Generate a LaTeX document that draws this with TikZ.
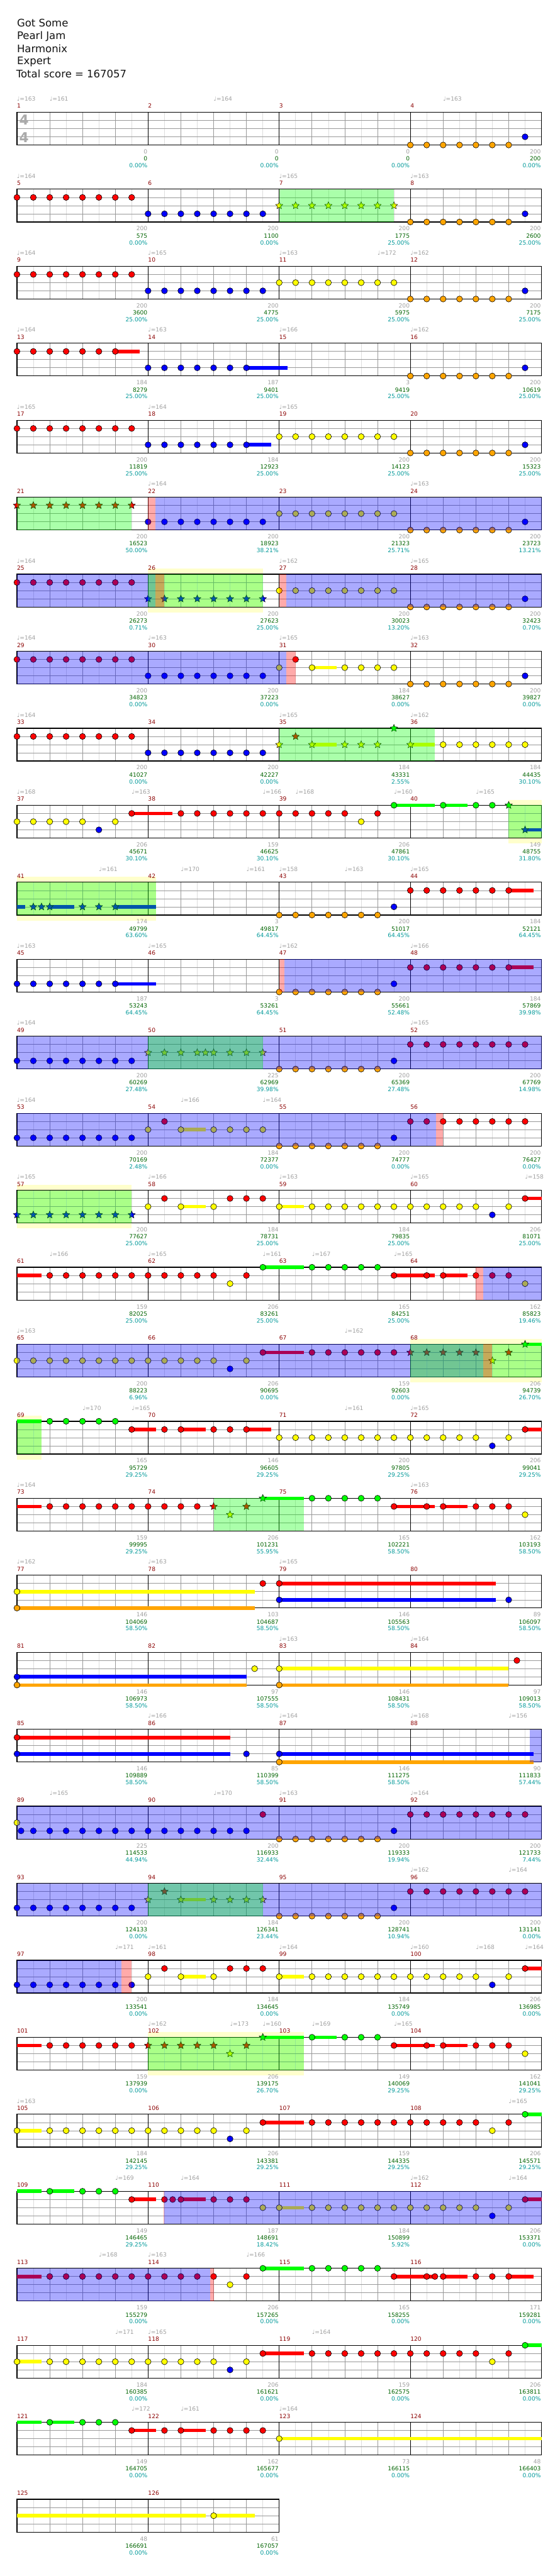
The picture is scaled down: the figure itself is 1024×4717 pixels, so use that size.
\documentclass[tikz,border=0pt]{standalone}
\usepackage{fontspec}
\setmainfont{DejaVu Sans}
\usetikzlibrary{shapes.geometric}
\definecolor{lane0}{HTML}{00FF00}
\definecolor{lane1}{HTML}{FF0000}
\definecolor{lane2}{HTML}{FFFF00}
\definecolor{lane3}{HTML}{0000FF}
\definecolor{lane4}{HTML}{FFA500}
\definecolor{qgray}{HTML}{999999}
\definecolor{qlight}{HTML}{DDDDDD}
\definecolor{qnum}{HTML}{8B0000}
\definecolor{qtxt}{HTML}{A0A0A0}
\definecolor{qgreen}{HTML}{006400}
\definecolor{qcyan}{HTML}{009999}
\definecolor{qband}{HTML}{FFFFCC}
\definecolor{qts}{HTML}{AAAAAA}
\tikzset{
 qlab/.style={inner sep=0pt, font=\fontsize{10.5}{12}\selectfont},
 qhead/.style={inner sep=0pt, anchor=base west, font=\fontsize{19}{22}\selectfont, text=black!92},
 qnote/.style={draw=black, line width=0.7pt},
 qstar/.style={star, star points=5, star point ratio=2.2, minimum size=14pt, inner sep=0pt, draw=black, line width=0.6pt},
}
\newcommand\qrow[3]{%
 \pgfmathsetmacro\qT{205.5+141*(#1-1)}%
 \pgfmathtruncatemacro\qK{8*#2}%
 \begin{scope}[shift={(31pt,-\qT pt)},x=30pt,y=-15pt]
 #3
 \foreach \qk in {1,3,...,\qK} {\draw[qlight, line width=0.8pt] (\qk,0)--(\qk,4);}
 \foreach \qk in {2,4,...,\qK} {\draw[qgray, line width=0.8pt] (\qk,0)--(\qk,4);}
 \foreach \ql in {1,2,3} {\draw[qgray, line width=0.8pt] (0,\ql)--(\qK,\ql);}
 \foreach \qk in {8,16,...,\qK} {\draw[black, line width=0.9pt] (\qk,0)--(\qk,4);}
 \draw[black, line width=1.4pt] (0,0) rectangle (\qK,4);
 \foreach \qc in {1,...,#2} {\pgfmathtruncatemacro\qm{4*(#1-1)+\qc}\node[qlab, text=qnum, anchor=base west, yshift=7.5pt] at ({8*(\qc-1)},0) {\qm};}
}
\newcommand\qend{\end{scope}}
\newcommand\qn[2]{\foreach \qk in {#2} {\draw[qnote, fill=lane#1] (\qk,#1) circle (5.5pt);}}
\newcommand\qs[2]{\foreach \qk in {#2} {\node[qstar, fill=lane#1] at (\qk,#1) {};}}
\newcommand\qsu[3]{\draw[lane#1, line width=6.5pt] (#2,#1)--(#3,#1);}
\newcommand\qg[2]{\fill[lane0, opacity=0.333] (#1,0) rectangle (#2,4);}
\newcommand\qb[2]{\fill[lane3, opacity=0.333] (#1,0) rectangle (#2,4);}
\newcommand\qp[2]{\fill[lane1, opacity=0.333] (#1,0) rectangle (#2,4);}
\newcommand\qy[2]{\fill[qband] (#1,-0.667) rectangle (#2,4.667);}
\newcommand\qt[2]{\node[qlab, text=qtxt, anchor=base west, yshift=20.5pt] at (#1,0) {♩=#2};}
\newcommand\qsc[4]{%
 \node[qlab, text=qtxt, anchor=base east, xshift=-1pt, yshift=-76pt] at ({8*#1},0) {#2};
 \node[qlab, text=qgreen, anchor=base east, xshift=-1pt, yshift=-89pt] at ({8*#1},0) {#3};
 \node[qlab, text=qcyan, anchor=base east, xshift=-1pt, yshift=-101.5pt] at ({8*#1},0) {#4\%};}
\begin{document}
\begin{tikzpicture}[x=1pt,y=-1pt]
\useasboundingbox (0,0) rectangle (1024,4717);
\fill[white] (0,0) rectangle (1024,4717);
\node[qhead] (title) at (31,49.3) {Got Some};
\node[qhead] (artist) at (31,72.3) {Pearl Jam};
\node[qhead] (charter) at (31,95.7) {Harmonix};
\node[qhead] (diff) at (31,118.3) {Expert};
\node[qhead] (total) at (29.5,141.7) {Total score = 167057};
% row 1
\qrow{1}{4}{}
\qt{0}{163}\qt{2}{161}\qt{12}{164}\qt{26}{163}
\qn{4}{24,...,30}\qn{3}{31}
\qsc{1}{0}{0}{0.00}\qsc{2}{0}{0}{0.00}\qsc{3}{0}{0}{0.00}\qsc{4}{200}{200}{0.00}
\qend
\node[inner sep=0pt, anchor=base west, font=\fontsize{25}{25}\selectfont\bfseries, text=qts] (tsa) at (35,228.1) {4};
\node[inner sep=0pt, anchor=base west, font=\fontsize{25}{25}\selectfont\bfseries, text=qts] (tsb) at (35,260.8) {4};
% row 2
\qrow{2}{4}{}
\qt{0}{164}\qt{16}{165}\qt{24}{163}
\qn{1}{0,...,7}\qn{3}{8,...,15}\qs{2}{16,...,23}\qn{4}{24,...,30}\qn{3}{31}
\qg{16}{23}
\qsc{1}{200}{575}{0.00}\qsc{2}{200}{1100}{0.00}\qsc{3}{200}{1775}{25.00}\qsc{4}{200}{2600}{25.00}
\qend
% row 3
\qrow{3}{4}{}
\qt{0}{164}\qt{8}{165}\qt{16}{163}\qt{22}{172}\qt{24}{162}
\qn{1}{0,...,7}\qn{3}{8,...,15}\qn{2}{16,...,23}\qn{4}{24,...,30}\qn{3}{31}
\qsc{1}{200}{3600}{25.00}\qsc{2}{200}{4775}{25.00}\qsc{3}{200}{5975}{25.00}\qsc{4}{200}{7175}{25.00}
\qend
% row 4
\qrow{4}{4}{}
\qt{0}{164}\qt{8}{163}\qt{16}{166}\qt{24}{162}
\qsu{1}{6}{7.5}\qsu{3}{14}{16.5}
\qn{1}{0,...,6}\qn{3}{8,...,14}\qn{4}{24,...,30}\qn{3}{31}
\qsc{1}{184}{8279}{25.00}\qsc{2}{187}{9401}{25.00}\qsc{3}{3}{9419}{25.00}\qsc{4}{200}{10619}{25.00}
\qend
% row 5
\qrow{5}{4}{}
\qt{0}{165}\qt{8}{164}\qt{16}{165}
\qsu{3}{14}{15.5}
\qn{1}{0,...,7}\qn{3}{8,...,14}\qn{2}{16,...,23}\qn{4}{24,...,30}\qn{3}{31}
\qsc{1}{200}{11819}{25.00}\qsc{2}{184}{12923}{25.00}\qsc{3}{200}{14123}{25.00}\qsc{4}{200}{15323}{25.00}
\qend
% row 6
\qrow{6}{4}{}
\qt{8}{164}\qt{24}{163}
\qs{1}{0,...,7}\qn{3}{8,...,15}\qn{2}{16,...,23}\qn{4}{24,...,30}\qn{3}{31}
\qg{0}{7}\qp{8}{8.43}\qb{8.43}{32}
\qsc{1}{200}{16523}{50.00}\qsc{2}{200}{18923}{38.21}\qsc{3}{200}{21323}{25.71}\qsc{4}{200}{23723}{13.21}
\qend
% row 7
\qrow{7}{4}{\qy{8}{15}}
\qt{0}{164}\qt{16}{162}\qt{24}{165}
\qn{1}{0,...,7}\qs{3}{8,...,15}\qn{2}{16,...,23}\qn{4}{24,...,30}\qn{3}{31}
\qb{0}{8.43}\qg{8}{15}\qp{8.43}{9}\qp{16}{16.43}\qb{16.43}{32}
\qsc{1}{200}{26273}{0.71}\qsc{2}{200}{27623}{25.00}\qsc{3}{200}{30023}{13.20}\qsc{4}{200}{32423}{0.70}
\qend
% row 8
\qrow{8}{4}{}
\qt{0}{164}\qt{8}{163}\qt{16}{165}\qt{24}{163}
\qsu{2}{18}{19.5}
\qn{1}{0,...,7}\qn{3}{8,...,15}\qn{2}{16,18,20,21,22,23}\qn{1}{17}\qn{4}{24,...,30}\qn{3}{31}
\qb{0}{16.43}\qp{16.43}{17}
\qsc{1}{200}{34823}{0.00}\qsc{2}{200}{37223}{0.00}\qsc{3}{184}{38627}{0.00}\qsc{4}{200}{39827}{0.00}
\qend
% row 9
\qrow{9}{4}{}
\qt{0}{164}\qt{16}{165}\qt{24}{162}
\qsu{2}{18}{19.5}\qsu{2}{24}{25.5}
\qn{1}{0,...,7}\qn{3}{8,...,15}\qs{2}{16,18,20,21,22,24}\qs{1}{17}\qs{0}{23}\qn{2}{26,...,31}
\qg{16}{25.5}
\qsc{1}{200}{41027}{0.00}\qsc{2}{200}{42227}{0.00}\qsc{3}{184}{43331}{2.55}\qsc{4}{184}{44435}{30.10}
\qend
% row 10
\qrow{10}{4}{\qy{30}{32}}
\qt{0}{168}\qt{7}{163}\qt{15}{166}\qt{17}{168}\qt{23}{160}\qt{28}{165}
\qsu{1}{7}{9.5}\qsu{0}{23}{25.5}\qsu{0}{26}{27.5}\qsu{3}{31}{32}
\qn{2}{0,...,4}\qn{3}{5}\qn{2}{6}\qn{1}{7}\qn{1}{10,...,20}\qn{2}{21}\qn{1}{22}\qn{0}{23,26,28,29}\qs{0}{30}\qs{3}{31}
\qg{30}{32}
\qsc{1}{206}{45671}{30.10}\qsc{2}{159}{46625}{30.10}\qsc{3}{206}{47861}{30.10}\qsc{4}{149}{48755}{31.80}
\qend
% row 11
\qrow{11}{4}{\qy{0}{8.5}}
\qt{5}{161}\qt{10}{170}\qt{14}{161}\qt{16}{158}\qt{20}{163}\qt{24}{165}
\qsu{3}{0}{0.5}\qsu{3}{2}{3.5}\qsu{3}{6}{8.5}\qsu{1}{30}{31.5}
\qs{3}{1,1.5,2,4,5,6}\qn{4}{16,...,22}\qn{3}{23}\qn{1}{24,...,30}
\qg{0}{8.5}
\qsc{1}{174}{49799}{63.60}\qsc{2}{3}{49817}{64.45}\qsc{3}{200}{51017}{64.45}\qsc{4}{184}{52121}{64.45}
\qend
% row 12
\qrow{12}{4}{}
\qt{0}{163}\qt{8}{165}\qt{16}{162}\qt{24}{166}
\qsu{3}{6}{8.5}\qsu{1}{30}{31.5}
\qn{3}{0,...,6}\qn{4}{16,...,22}\qn{3}{23}\qn{1}{24,...,30}
\qp{16}{16.33}\qb{16.33}{32}
\qsc{1}{187}{53243}{64.45}\qsc{2}{3}{53261}{64.45}\qsc{3}{200}{55661}{52.48}\qsc{4}{184}{57869}{39.98}
\qend
% row 13
\qrow{13}{4}{}
\qt{0}{164}\qt{24}{165}
\qn{3}{0,...,7}\qs{2}{8,9,10,11,11.5,12,13,14,15}\qn{4}{16,...,22}\qn{3}{23}\qn{1}{24,...,31}
\qb{0}{32}\qg{8}{15}
\qsc{1}{200}{60269}{27.48}\qsc{2}{225}{62969}{39.98}\qsc{3}{200}{65369}{27.48}\qsc{4}{200}{67769}{14.98}
\qend
% row 14
\qrow{14}{4}{}
\qt{0}{164}\qt{10}{166}\qt{15}{164}
\qsu{2}{10}{11.5}
\qn{3}{0,...,7}\qn{2}{8,10,12,13,14,15}\qn{1}{9}\qn{4}{16,...,22}\qn{3}{23}\qn{1}{24,...,31}
\qb{0}{25.58}\qp{25.58}{26}
\qsc{1}{200}{70169}{2.48}\qsc{2}{184}{72377}{0.00}\qsc{3}{200}{74777}{0.00}\qsc{4}{200}{76427}{0.00}
\qend
% row 15
\qrow{15}{4}{\qy{0}{7}}
\qt{0}{165}\qt{8}{166}\qt{16}{163}\qt{24}{165}\qt{31}{158}
\qsu{2}{10}{11.5}\qsu{2}{16}{17.5}\qsu{1}{31}{32}
\qs{3}{0,...,7}\qn{2}{8,10,12,16}\qn{1}{9,13,14,15}\qn{2}{18,...,28}\qn{3}{29}\qn{2}{30}\qn{1}{31}
\qg{0}{7}
\qsc{1}{200}{77627}{25.00}\qsc{2}{184}{78731}{25.00}\qsc{3}{184}{79835}{25.00}\qsc{4}{206}{81071}{25.00}
\qend
% row 16
\qrow{16}{4}{}
\qt{2}{166}\qt{8}{165}\qt{15}{161}\qt{18}{167}\qt{23}{165}
\qsu{1}{0}{1.5}\qsu{0}{15}{17.5}\qsu{1}{23}{25.5}\qsu{1}{26}{27.5}
\qn{1}{2,...,12}\qn{2}{13}\qn{1}{14}\qn{0}{15}\qn{0}{18,...,22}\qn{1}{23,25,26,28,29,30}\qn{2}{31}
\qp{28}{28.43}\qb{28.43}{32}
\qsc{1}{159}{82025}{25.00}\qsc{2}{206}{83261}{25.00}\qsc{3}{165}{84251}{25.00}\qsc{4}{162}{85823}{19.46}
\qend
% row 17
\qrow{17}{4}{\qy{24}{32}}
\qt{0}{163}\qt{20}{162}
\qsu{1}{15}{17.5}\qsu{0}{31}{32}
\qn{2}{0,...,12}\qn{3}{13}\qn{2}{14}\qn{1}{15}\qn{1}{18,...,23}\qs{1}{24,...,28}\qs{2}{29}\qs{1}{30}\qs{0}{31}
\qb{0}{28.45}\qg{24}{32}\qp{28.45}{29}
\qsc{1}{200}{88223}{6.96}\qsc{2}{206}{90695}{0.00}\qsc{3}{159}{92603}{0.00}\qsc{4}{206}{94739}{26.70}
\qend
% row 18
\qrow{18}{4}{\qy{0}{1.5}}
\qt{4}{170}\qt{7}{165}\qt{20}{161}\qt{24}{165}
\qsu{0}{0}{1.5}\qsu{1}{7}{8.5}\qsu{1}{10}{11.5}\qsu{1}{14}{15.5}\qsu{1}{31}{32}
\qn{0}{2,...,6}\qn{1}{7,9,10,12,13,14,31}\qn{2}{16,...,28}\qn{3}{29}\qn{2}{30}
\qg{0}{1.5}
\qsc{1}{165}{95729}{29.25}\qsc{2}{146}{96605}{29.25}\qsc{3}{200}{97805}{29.25}\qsc{4}{206}{99041}{29.25}
\qend
% row 19
\qrow{19}{4}{}
\qt{0}{164}\qt{24}{163}
\qsu{1}{0}{1.5}\qsu{0}{15}{17.5}\qsu{1}{23}{25.5}\qsu{1}{26}{27.5}
\qn{1}{2,...,11}\qs{1}{12,14}\qs{2}{13}\qs{0}{15}\qn{0}{18,...,22}\qn{1}{23,25,26,28,29,30}\qn{2}{31}
\qg{12}{17.5}
\qsc{1}{159}{99995}{29.25}\qsc{2}{206}{101231}{55.95}\qsc{3}{165}{102221}{58.50}\qsc{4}{162}{103193}{58.50}
\qend
% row 20
\qrow{20}{4}{}
\qt{0}{162}\qt{8}{163}\qt{16}{165}
\qsu{2}{0}{14.5}\qsu{4}{0}{14.5}\qsu{1}{16}{29.2}\qsu{3}{16}{29.2}
\qn{2}{0}\qn{4}{0}\qn{1}{15,16}\qn{3}{16,30}
\qsc{1}{146}{104069}{58.50}\qsc{2}{103}{104687}{58.50}\qsc{3}{146}{105563}{58.50}\qsc{4}{89}{106097}{58.50}
\qend
% row 21
\qrow{21}{4}{}
\qt{16}{163}\qt{24}{164}
\qsu{3}{0}{14}\qsu{4}{0}{14}\qsu{2}{16}{30}\qsu{4}{16}{30}
\qn{3}{0}\qn{4}{0,16}\qn{2}{14.5,16}\qn{1}{30.5}
\qsc{1}{146}{106973}{58.50}\qsc{2}{97}{107555}{58.50}\qsc{3}{146}{108431}{58.50}\qsc{4}{97}{109013}{58.50}
\qend
% row 22
\qrow{22}{4}{}
\qt{8}{166}\qt{16}{164}\qt{24}{168}\qt{30}{156}
\qsu{1}{0}{13}\qsu{3}{0}{13}\qsu{3}{16}{31.5}\qsu{4}{16}{31.5}
\qn{1}{0}\qn{3}{0,14,16}\qn{4}{16}
\qb{31.3}{32}
\qsc{1}{146}{109889}{58.50}\qsc{2}{85}{110399}{58.50}\qsc{3}{146}{111275}{58.50}\qsc{4}{90}{111833}{57.44}
\qend
% row 23
\qrow{23}{4}{}
\qt{2}{165}\qt{12}{170}\qt{16}{163}\qt{24}{164}
\qn{2}{0}\qn{3}{0.25}\qn{3}{1,...,14}\qn{1}{15}\qn{4}{16,...,22}\qn{3}{23}\qn{1}{24,...,31}
\qb{0}{32}
\qsc{1}{225}{114533}{44.94}\qsc{2}{200}{116933}{32.44}\qsc{3}{200}{119333}{19.94}\qsc{4}{200}{121733}{7.44}
\qend
% row 24
\qrow{24}{4}{}
\qt{24}{162}\qt{30}{164}
\qsu{2}{10}{11.5}
\qn{3}{0,...,7}\qs{2}{8,10,12,13,14,15}\qs{1}{9}\qn{4}{16,...,22}\qn{3}{23}\qn{1}{24,...,31}
\qb{0}{32}\qg{8}{15}
\qsc{1}{200}{124133}{0.00}\qsc{2}{184}{126341}{23.44}\qsc{3}{200}{128741}{10.94}\qsc{4}{200}{131141}{0.00}
\qend
% row 25
\qrow{25}{4}{}
\qt{6}{171}\qt{8}{161}\qt{16}{164}\qt{24}{160}\qt{28}{168}\qt{31}{164}
\qsu{2}{10}{11.5}\qsu{2}{16}{17.5}\qsu{1}{31}{32}
\qn{3}{0,...,7}\qn{2}{8,10,12,16}\qn{1}{9,13,14,15,31}\qn{2}{18,...,28}\qn{3}{29}\qn{2}{30}
\qb{0}{6.38}\qp{6.38}{7}
\qsc{1}{200}{133541}{0.00}\qsc{2}{184}{134645}{0.00}\qsc{3}{184}{135749}{0.00}\qsc{4}{206}{136985}{0.00}
\qend
% row 26
\qrow{26}{4}{\qy{8}{17.5}}
\qt{8}{162}\qt{13}{173}\qt{15}{160}\qt{18}{169}\qt{23}{165}
\qsu{1}{0}{1.5}\qsu{0}{15}{17.5}\qsu{0}{18}{19.5}\qsu{1}{23}{25.5}\qsu{1}{26}{27.5}
\qn{1}{2,...,7}\qs{1}{8,...,12}\qs{2}{13}\qs{1}{14}\qs{0}{15}\qn{0}{18,20,21,22}\qn{1}{23,25,26,28,29,30}\qn{2}{31}
\qg{8}{17.5}
\qsc{1}{159}{137939}{0.00}\qsc{2}{206}{139175}{26.70}\qsc{3}{149}{140069}{29.25}\qsc{4}{162}{141041}{29.25}
\qend
% row 27
\qrow{27}{4}{}
\qt{0}{163}\qt{30}{165}
\qsu{2}{0}{1.5}\qsu{1}{15}{17.5}\qsu{0}{31}{32}
\qn{2}{0}\qn{2}{2,...,12}\qn{3}{13}\qn{2}{14,29}\qn{1}{15}\qn{1}{18,...,28}\qn{1}{30}\qn{0}{31}
\qsc{1}{184}{142145}{29.25}\qsc{2}{206}{143381}{29.25}\qsc{3}{159}{144335}{29.25}\qsc{4}{206}{145571}{29.25}
\qend
% row 28
\qrow{28}{4}{}
\qt{6}{169}\qt{10}{164}\qt{24}{162}\qt{30}{164}
\qsu{0}{0}{1.5}\qsu{0}{2}{3.5}\qsu{1}{7}{8.5}\qsu{1}{10}{11.5}\qsu{2}{16}{17.5}\qsu{1}{31}{32}
\qn{0}{2,4,5,6}\qn{1}{7,9,9.5,10,12,13,14,31}\qn{2}{15,16}\qn{2}{18,...,28}\qn{3}{29}\qn{2}{30}
\qp{8.95}{9}\qb{9}{32}
\qsc{1}{149}{146465}{29.25}\qsc{2}{187}{148691}{18.42}\qsc{3}{184}{150899}{5.92}\qsc{4}{206}{153371}{0.00}
\qend
% row 29
\qrow{29}{4}{}
\qt{5}{168}\qt{8}{163}\qt{14}{166}
\qsu{1}{0}{1.5}\qsu{0}{15}{17.5}\qsu{1}{23}{25.5}\qsu{1}{26}{27.5}\qsu{1}{30}{31.5}
\qn{1}{2,...,12}\qn{2}{13}\qn{1}{14}\qn{0}{15}\qn{0}{18,...,22}\qn{1}{23,25,25.5,26,28,29,30}
\qb{0}{11.8}\qp{11.8}{12}
\qsc{1}{159}{155279}{0.00}\qsc{2}{206}{157265}{0.00}\qsc{3}{165}{158255}{0.00}\qsc{4}{171}{159281}{0.00}
\qend
% row 30
\qrow{30}{4}{}
\qt{6}{171}\qt{8}{165}\qt{18}{164}
\qsu{2}{0}{1.5}\qsu{1}{15}{17.5}\qsu{0}{31}{32}
\qn{2}{0}\qn{2}{2,...,12}\qn{3}{13}\qn{2}{14,29}\qn{1}{15}\qn{1}{18,...,28}\qn{1}{30}\qn{0}{31}
\qsc{1}{184}{160385}{0.00}\qsc{2}{206}{161621}{0.00}\qsc{3}{159}{162575}{0.00}\qsc{4}{206}{163811}{0.00}
\qend
% row 31
\qrow{31}{4}{}
\qt{7}{172}\qt{10}{161}\qt{16}{164}
\qsu{0}{0}{1.5}\qsu{0}{2}{3.5}\qsu{1}{7}{8.5}\qsu{1}{10}{11.5}\qsu{2}{16}{32}
\qn{0}{2,4,5,6}\qn{1}{7,9,10,12,13,14,15}\qn{2}{16}
\qsc{1}{149}{164705}{0.00}\qsc{2}{162}{165677}{0.00}\qsc{3}{73}{166115}{0.00}\qsc{4}{48}{166403}{0.00}
\qend
% row 32
\qrow{32}{2}{}
\qsu{2}{0}{11.5}\qsu{2}{12}{14.5}
\qn{2}{12}
\qsc{1}{48}{166691}{0.00}\qsc{2}{61}{167057}{0.00}
\qend
\end{tikzpicture}
\end{document}
